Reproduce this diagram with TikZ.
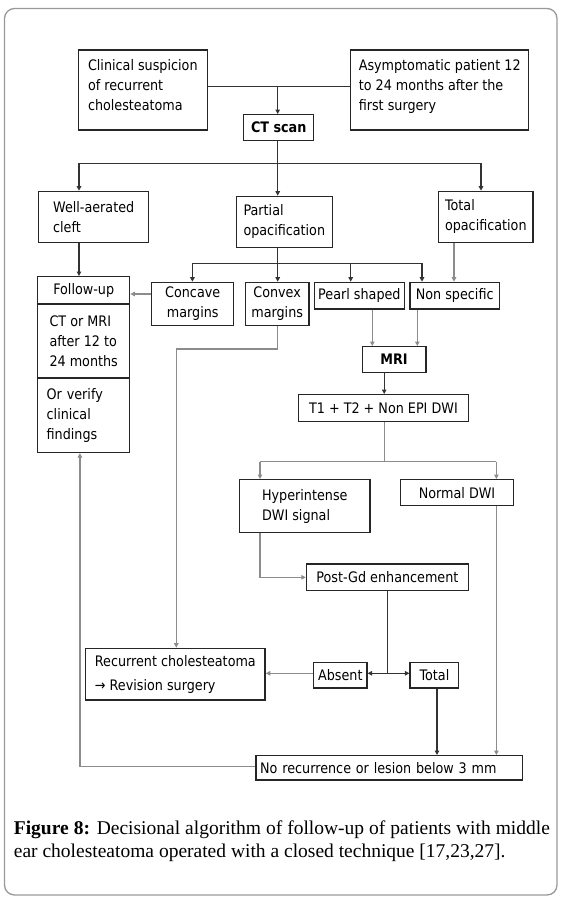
\documentclass[tikz,border=0pt]{standalone}
\usepackage{fontspec}
\setmainfont{Liberation Serif}
\newfontfamily\dfont{DejaVu Sans}[FakeStretch=0.88]
\usetikzlibrary{arrows.meta}
\begin{document}
\begin{tikzpicture}[x=1pt,y=-1pt,
 box/.style={draw=black!85, line width=1.4pt, inner sep=0pt, font=\dfont\fontsize{14.5}{20}\selectfont, align=left, anchor=north west},
 cbox/.style={box, align=center},
 dk/.style={draw=black!80, line width=1.2pt},
 lt/.style={draw=black!45, line width=1.3pt},
 arr/.style={-{Triangle[length=4.5pt,width=4.5pt]}},
]
\useasboundingbox (0,0) rectangle (561,899);
\draw[black!40, line width=1.3pt, rounded corners=10pt] (4.5,8.5) rectangle (557,895);

% boxes
\node[box, minimum width=128.8pt, minimum height=80pt] (clin) at (77.7,49.3) {Clinical suspicion\\of recurrent\\cholesteatoma\\[-10pt]\mbox{}};
\node[box, minimum width=178pt, minimum height=80pt] (asym) at (350,49.3) {Asymptomatic patient 12\\to 24 months after the\\first surgery\\[-10pt]\mbox{}};
\node[cbox, minimum width=70pt, minimum height=25.5pt] (ct) at (243,114) {\bfseries CT scan};
\node[box, minimum width=110pt, minimum height=51pt] (well) at (38,190.7) {Well-aerated\\cleft};
\node[box, minimum width=96pt, minimum height=51pt] (part) at (235.6,195.7) {Partial\\opacification};
\node[box, minimum width=94.6pt, minimum height=51pt] (tot) at (437.8,190.7) {Total\\opacification};
\node[box, minimum width=92pt, minimum height=27.3pt] (follow) at (37,276) {Follow-up};
\node[box, minimum width=92pt, minimum height=74pt] (ctmri) at (37,303.3) {CT or MRI\\after 12 to\\24 months};
\node[box, minimum width=92pt, minimum height=74.4pt, text width=74pt] (orver) at (37,377.3) {Or verify\\clinical\\findings};
\node[cbox, minimum width=82pt, minimum height=43.3pt] (conc) at (151,281.7) {Concave\\margins};
\node[cbox, minimum width=63.7pt, minimum height=43.3pt] (conv) at (244.6,281.7) {Convex\\margins};
\node[cbox, minimum width=90pt, minimum height=26.6pt] (pearl) at (313.7,281.7) {Pearl shaped};
\node[cbox, minimum width=89.2pt, minimum height=26.6pt] (nons) at (409.4,281.7) {Non specific};
\node[cbox, minimum width=63.7pt, minimum height=25.7pt] (mri) at (361.5,346) {\bfseries MRI};
\node[cbox, minimum width=169.8pt, minimum height=27pt] (t1) at (297.8,394) {T1 + T2 + Non EPI DWI};
\node[box, minimum width=130.6pt, minimum height=52.7pt] (hyp) at (238.8,479) {Hyperintense\\DWI signal};
\node[cbox, minimum width=112.6pt, minimum height=26pt] (norm) at (400,479) {Normal DWI};
\node[cbox, minimum width=161.8pt, minimum height=26.7pt] (post) at (305.8,563.3) {Post-Gd enhancement};
\node[cbox, minimum width=53.2pt, minimum height=25.6pt] (abs) at (313,661.7) {Absent};
\node[cbox, minimum width=48.6pt, minimum height=25.6pt] (totl) at (409.4,661.7) {Total};
\node[box, minimum width=179.5pt, minimum height=51.6pt] (rec) at (84.9,647.7) {Recurrent cholesteatoma\\[4pt]{\dfont →} Revision surgery};
\node[box, minimum width=266.2pt, minimum height=24.3pt, text width=258pt] (norec) at (255.4,755) {No recurrence or lesion below 3 mm};

% connectors
\coordinate (j1) at (277.7,86.7);
\draw[dk] (clin.east |- j1) -- (asym.west |- j1);
\draw[dk,arr] (j1) -- (j1 |- ct.north);
\coordinate (j2) at (277.7,163.3);
\coordinate (b1) at (79,163.3);
\coordinate (b3) at (481,163.3);
\draw[dk] (j1 |- ct.south) -- (j2);
\draw[dk] (b1) -- (b3);
\draw[dk,arr] (b1) -- (b1 |- well.north);
\draw[dk,arr] (j2) -- (j2 |- part.north);
\draw[dk,arr] (b3) -- (b3 |- tot.north);
\draw[dk,arr] (b1 |- well.south) -- (b1 |- follow.north);

\coordinate (j3) at (277.7,263.3);
\coordinate (c1) at (192.4,263.3);
\coordinate (c3) at (350.7,263.3);
\coordinate (c4) at (422,263.3);
\draw[dk] (j3 |- part.south) -- (j3);
\draw[dk] (c1) -- (c4);
\draw[dk,arr] (c1) -- (c1 |- conc.north);
\draw[dk,arr] (j3) -- (j3 |- conv.north);
\draw[dk,arr] (c3) -- (c3 |- pearl.north);
\draw[dk,arr] (c4) -- (c4 |- nons.north);
\coordinate (t5) at (454,241.7);
\draw[lt,arr] (tot.south -| t5) -- (t5 |- nons.north);

\coordinate (fy) at (140,294);
\draw[lt,arr] (conc.west |- fy) -- (follow.east |- fy);

\coordinate (v1) at (277.7,349);
\coordinate (v2) at (176.3,349);
\draw[lt,arr] (conv.south -| v1) -- (v1) -- (v2) -- (v2 |- rec.north);

\coordinate (m1) at (372.3,330);
\coordinate (m2) at (417.3,330);
\draw[lt,arr] (pearl.south -| m1) -- (m1 |- mri.north);
\draw[lt,arr] (nons.south -| m2) -- (m2 |- mri.north);

\coordinate (k) at (384.2,461.7);
\coordinate (h1) at (260,461.7);
\coordinate (h2) at (496.4,461.7);
\draw[dk,arr] (mri.south -| k) -- (k |- t1.north);
\draw[lt] (t1.south -| k) -- (k);
\draw[lt] (h1) -- (h2);
\draw[lt,arr] (h1) -- (h1 |- hyp.north);
\draw[lt,arr] (h2) -- (h2 |- norm.north);

\coordinate (p1) at (260,577.3);
\draw[lt,arr] (hyp.south -| p1) -- (p1) -- (p1 -| post.west);

\coordinate (q) at (387.4,673.3);
\draw[dk] (post.south -| q) -- (q);
\draw[dk,arr] (q) -- (q -| abs.east);
\draw[dk,arr] (q) -- (q -| totl.west);
\draw[lt,arr] (abs.west |- q) -- (rec.east |- q);

\coordinate (r1) at (437,720);
\draw[dk,arr] (totl.south -| r1) -- (r1 |- norec.north);
\draw[lt,arr] (norm.south -| h2) -- (h2 |- norec.north);

\coordinate (s1) at (79.9,766.7);
\draw[lt,arr] (norec.west |- s1) -- (s1) -- (s1 |- orver.south);

% caption
\node[anchor=base west, inner sep=0pt, font=\fontsize{19.5}{23}\selectfont] (cap1) at (13.7,834.3) {\makebox[536pt][s]{\textbf{Figure 8:} Decisional algorithm of follow-up of patients with middle}};
\node[anchor=base west, inner sep=0pt, font=\fontsize{19.5}{23}\selectfont] (cap2) at (13.7,857.3) {ear cholesteatoma operated with a closed technique [17,23,27].};
\end{tikzpicture}
\end{document}
